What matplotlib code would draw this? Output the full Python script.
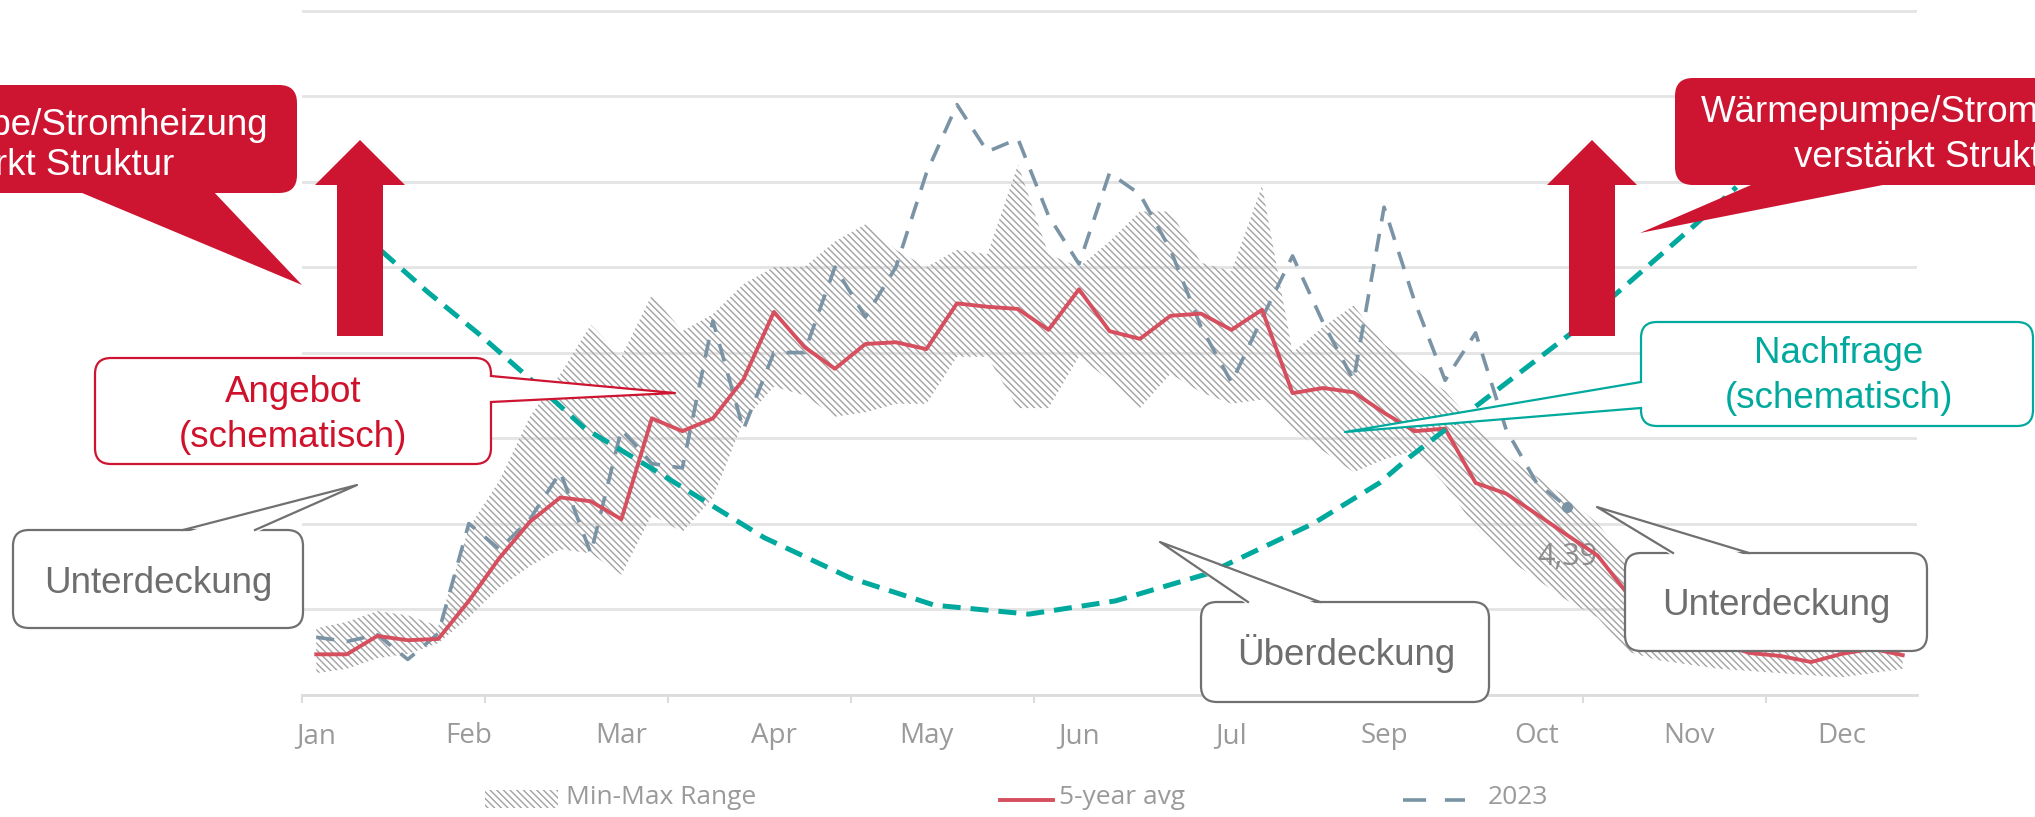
import matplotlib.pyplot as plt
import numpy as np
from matplotlib.patches import FancyBboxPatch, Polygon, FancyArrow, Rectangle
from matplotlib.lines import Line2D

plt.rcParams['hatch.linewidth'] = 1.0

# weekly values (week index 0..52)
avg5 = [0.94, 0.94, 1.37, 1.27, 1.30, 2.19, 3.19, 4.04, 4.61, 4.52,
        4.10, 6.46, 6.16, 6.46, 7.37, 8.95, 8.13, 7.62, 8.20, 8.24,
        8.08, 9.15, 9.07, 9.02, 8.53, 9.48, 8.50, 8.32, 8.86, 8.91,
        8.53, 9.00, 7.05, 7.17, 7.07, 6.59, 6.16, 6.22, 4.95, 4.70,
        4.22, 3.73, 3.25, 2.34, 1.73, 1.37, 1.18, 0.97, 0.90, 0.76,
        0.95, 1.07, 0.92]
band_upper = [1.55, 1.70, 1.95, 1.85, 1.60, 3.90, 5.00, 6.50, 7.50, 8.65,
              7.90, 9.35, 8.50, 8.90, 9.60, 10.0, 10.0, 10.6, 11.0, 10.4,
              10.0, 10.4, 10.3, 12.4, 10.3, 10.0, 10.6, 11.3, 11.3, 10.1,
              9.90, 11.9, 8.00, 8.60, 9.10, 8.20, 7.60, 7.10, 6.30, 5.60,
              5.10, 4.60, 4.00, 3.10, 2.30, 1.70, 1.40, 1.30, 1.25, 1.20,
              1.30, 1.35, 1.25]
band_lower = [0.50, 0.60, 0.85, 0.95, 1.20, 1.80, 2.50, 3.00, 3.40, 3.30,
              2.80, 4.20, 3.80, 4.60, 6.40, 7.20, 7.00, 6.50, 6.60, 6.80,
              6.80, 7.90, 7.90, 6.70, 6.70, 7.90, 7.35, 6.70, 7.50, 7.07,
              6.80, 6.90, 6.20, 5.70, 5.20, 5.50, 5.70, 4.90, 3.90, 3.20,
              2.70, 2.20, 1.80, 1.00, 0.80, 0.70, 0.60, 0.55, 0.50, 0.45,
              0.40, 0.50, 0.60]
y2023 = [1.34, 1.24, 1.40, 0.82, 1.43, 4.00, 3.40, 4.10, 5.20, 3.30,
         6.20, 5.40, 5.30, 8.74, 6.20, 8.00, 8.00, 10.0, 8.83, 10.0,
         12.2, 13.8, 12.7, 13.0, 11.2, 10.07, 12.2, 11.7, 10.4, 8.60,
         7.30, 8.80, 10.26, 8.70, 7.35, 11.4, 9.20, 7.35, 8.46, 6.20,
         4.95, 4.39]

# schematic demand curve
demand_x = [2.13, 3.66, 5.32, 7.06, 8.81, 11.15, 14.68, 17.49, 20.26, 23.36,
            26.2, 29.19, 32.68, 34.85, 35.83, 41.06, 45.15, 46.55]
demand_y = [10.38, 9.41, 8.44, 7.35, 6.22, 5.22, 3.67, 2.73, 2.09, 1.88,
            2.19, 2.82, 4.00, 4.95, 5.55, 8.41, 10.96, 11.87]

months = ['Jan', 'Feb', 'Mar', 'Apr', 'May', 'Jun', 'Jul', 'Sep', 'Oct', 'Nov', 'Dec']

W, H = 2035, 817
fig = plt.figure(figsize=(W / 100, H / 100), dpi=100)
ax = fig.add_axes([302 / W, 1 - 694.5 / H, (1917 - 302) / W, 692.5 / H])

weeks = np.arange(len(avg5))
ax.fill_between(weeks, band_lower, band_upper, facecolor='none', edgecolor='#a2a2a2',
                hatch='\\\\\\\\\\', linewidth=0, zorder=1)
ax.plot(np.arange(len(y2023)), y2023, color='#7a93a5', lw=2.6, dashes=(5, 3.5), zorder=2)
ax.plot(len(y2023) - 1, y2023[-1], 'o', color='#7a93a5', ms=7, zorder=2)
ax.annotate('4,39', (len(y2023) - 1, y2023[-1]), xytext=(0, -36), textcoords='offset points',
            ha='center', va='center', fontsize=22, color='#8c8c8c', family='Open Sans')
ax.plot(weeks, avg5, color='#d64f5f', lw=2.8, zorder=3)
ax.plot(demand_x, demand_y, color='#00a99d', lw=3.6, dashes=(3.6, 2.0), zorder=4)

xl = (233 - 244) / 23.5
ax.set_xlim(xl, (1477 - 244) / 23.5)
ax.set_ylim(0, 16.2)
ax.set_yticks(np.arange(0, 17, 2))
ax.set_yticklabels([])
ax.tick_params(axis='y', length=0)
ax.grid(axis='y', color='#e4e4e4', lw=2.0)
ax.set_axisbelow(True)
for s in ['left', 'right', 'top']:
    ax.spines[s].set_visible(False)
ax.spines['bottom'].set_color('#dcdcdc')
ax.spines['bottom'].set_linewidth(2.0)

ax.set_xticks(np.arange(0, 51, 5))
ax.set_xticklabels(months, fontsize=20, color='#9a9a9a', family='Open Sans')
ax.set_xticks([xl + 6 * i for i in range(9)], minor=True)
ax.tick_params(axis='x', which='major', length=0, pad=20)
ax.tick_params(axis='x', which='minor', length=6, width=1.5, color='#dcdcdc')

# overlay in pixel coordinates for callouts
ov = fig.add_axes([0, 0, 1, 1], zorder=10)
ov.set_xlim(0, W)
ov.set_ylim(H, 0)
ov.axis('off')
ov.patch.set_alpha(0)

RED = '#cd1431'
TEAL = '#00a99d'
GREY = '#707070'


def callout(box, tail, edge, face, text, tcolor, tx, ty, radius=16, ls=1.38):
    x0, y0, x1, y1 = box
    ov.add_patch(FancyBboxPatch((x0, y0), x1 - x0, y1 - y0,
                                boxstyle='round,pad=0,rounding_size=%d' % radius,
                                facecolor=face, edgecolor=edge if edge else face,
                                lw=1.6 if edge else 0, zorder=1))
    b1, b2, tip = tail

    def inward(p):
        dx = 0 if p[0] not in (x0, x1) else (3 if p[0] == x0 else -3)
        dy = 0 if p[1] not in (y0, y1) else (3 if p[1] == y0 else -3)
        return (p[0] + dx, p[1] + dy)
    ov.add_patch(Polygon([inward(b1), tip, inward(b2)], closed=True,
                         facecolor=face, edgecolor='none', zorder=2))
    if edge:
        ov.add_line(Line2D([b1[0], tip[0], b2[0]], [b1[1], tip[1], b2[1]],
                           color=edge, lw=1.6, zorder=3))
    # ty is the baseline of the last line
    ov.text(tx, ty, text, ha='center', va='baseline', color=tcolor, fontsize=26.5,
            family='Liberation Sans', linespacing=ls, multialignment='center', zorder=4)


callout((-260, 85, 297, 193), ((75, 193), (212, 193), (302, 285)), None, RED,
        'Wärmepumpe/Stromheizung\nverstärkt Struktur', 'white', 35, 175, radius=18, ls=1.19)
callout((1675, 78, 2300, 185), ((1758, 185), (1898, 185), (1640, 233)), None, RED,
        'Wärmepumpe/Stromheizung\nverstärkt Struktur', 'white', 1934, 167, radius=18)
callout((95, 358, 491, 464), ((491, 376), (491, 402), (675, 393)), RED, 'white',
        'Angebot\n(schematisch)', '#d0112b', 293, 447)
callout((13, 530, 303, 628), ((183, 530), (255, 530), (357, 485)), GREY, 'white',
        'Unterdeckung', '#6e6e6e', 158, 593)
callout((1641, 322, 2033, 426), ((1641, 382), (1641, 408), (1345, 432)), TEAL, 'white',
        'Nachfrage\n(schematisch)', TEAL, 1839, 408)
callout((1201, 602, 1489, 702), ((1248, 602), (1320, 602), (1160, 542)), GREY, 'white',
        'Überdeckung', '#6e6e6e', 1346, 665)
callout((1625, 553, 1927, 651), ((1673, 553), (1749, 553), (1597, 507)), GREY, 'white',
        'Unterdeckung', '#6e6e6e', 1776, 615)

for ax_x in (360, 1592):
    ov.add_patch(FancyArrow(ax_x, 336, 0, -196, width=46, head_width=90, head_length=45,
                            length_includes_head=True, color=RED, lw=0, zorder=5))

# legend
ov.add_patch(Rectangle((485, 790), 73, 18, facecolor='none', edgecolor='#a2a2a2',
                       hatch='\\\\\\\\\\', lw=0))
ov.add_line(Line2D([1000, 1053], [800, 800], color='#d64f5f', lw=2.8))
ov.add_line(Line2D([1403, 1465], [800, 800], color='#7a93a5', lw=2.6, dashes=(6.4, 5.2)))
for lx, lt in [(566, 'Min-Max Range'), (1059, '5-year avg'), (1488, '2023')]:
    ov.text(lx, 798, lt, ha='left', va='center', fontsize=19, color='#9a9a9a',
            family='Open Sans')

fig.savefig('out.png', dpi=100)
